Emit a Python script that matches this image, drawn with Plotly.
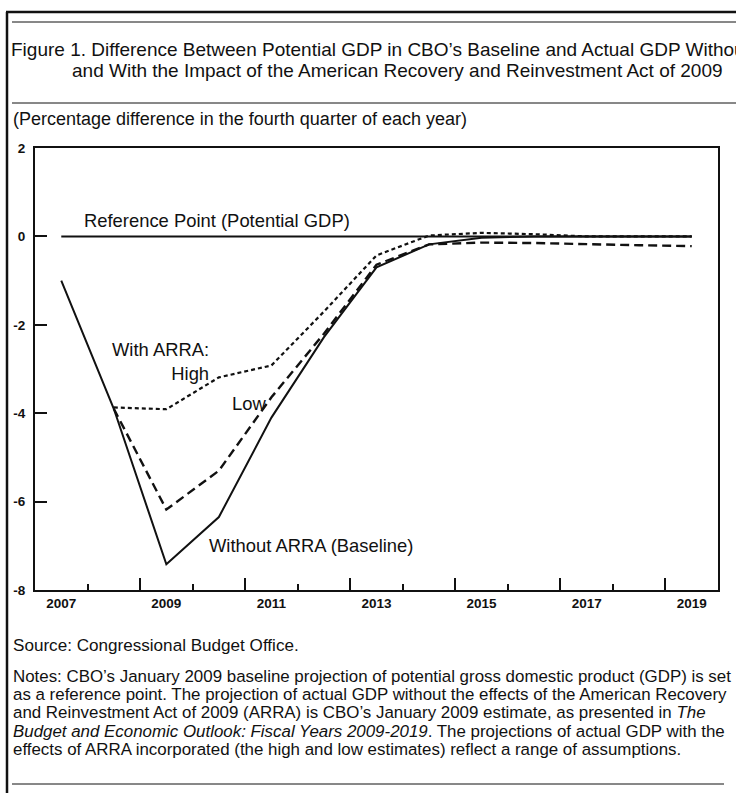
import plotly.graph_objects as go

# ---- data (percentage difference, Q4 of each year) ----
years = [2007, 2008, 2009, 2010, 2011, 2012, 2013, 2014, 2015, 2016, 2017, 2018, 2019]
reference = [0, 0, 0, 0, 0, 0, 0, 0, 0, 0, 0, 0, 0]
without_arra = [-1.0, -3.9, -7.42, -6.35, -4.1, -2.28, -0.7, -0.18, -0.03, 0.0, 0.0, 0.0, 0.0]
with_low = [None, -3.9, -6.18, -5.3, -3.64, -2.2, -0.64, -0.18, -0.14, -0.15, -0.18, -0.2, -0.22]
with_high = [None, -3.87, -3.91, -3.19, -2.92, -1.7, -0.43, 0.02, 0.08, 0.05, 0.0, 0.0, 0.0]

label_years = [2007, 2009, 2011, 2013, 2015, 2017, 2019]
long_ticks = [2008.5, 2010.5, 2012.5, 2014.5, 2016.5, 2018.5]
short_ticks = [2007.5, 2009.5, 2011.5, 2013.5, 2015.5, 2017.5]
y_ticks = [2, 0, -2, -4, -6, -8]

FONT = "Liberation Sans, Arial, sans-serif"
INK = "#111111"

W, H = 736, 793
L, R, T, B = 35, 718, 148, 590


def px(xp):
    return (xp - L) / (R - L)


def py(yp):
    return (B - yp) / (B - T)


fig = go.Figure()
fig.add_trace(go.Scatter(x=years, y=reference, mode="lines", xaxis="x2",
                         line=dict(color=INK, width=2), hoverinfo="skip"))
fig.add_trace(go.Scatter(x=years, y=with_high, mode="lines",
                         line=dict(color=INK, width=2.2, dash="4px,3px")))
fig.add_trace(go.Scatter(x=years, y=with_low, mode="lines",
                         line=dict(color=INK, width=2.4, dash="9px,5px")))
fig.add_trace(go.Scatter(x=years, y=without_arra, mode="lines",
                         line=dict(color=INK, width=2)))

ann = []
LBL = 18.4
ann.append(dict(x=2009.97, y=0.36, text="Reference Point (Potential GDP)", xref="x", yref="y",
                showarrow=False, font=dict(size=LBL, family=FONT, color=INK)))
ann.append(dict(x=2009.85, y=-2.84, text="With ARRA:<br>High", xref="x", yref="y", align="right",
                xanchor="right", showarrow=False, font=dict(size=LBL, family=FONT, color=INK)))
ann.append(dict(x=2010.58, y=-3.78, text="Low", xref="x", yref="y",
                showarrow=False, font=dict(size=LBL, family=FONT, color=INK)))
ann.append(dict(x=2011.76, y=-7.0, text="Without ARRA (Baseline)", xref="x", yref="y",
                showarrow=False, font=dict(size=LBL, family=FONT, color=INK)))


def txt(x, y, s, size):
    ann.append(dict(x=px(x), y=py(y), xref="paper", yref="paper", text=s, showarrow=False,
                    xanchor="left", yanchor="middle", align="left",
                    font=dict(size=size, family=FONT, color=INK)))

txt(9, 50, "Figure 1. Difference Between Potential GDP in CBO\u2019s Baseline and Actual GDP Without", 19)
txt(70, 71, "and With the Impact of the American Recovery and Reinvestment Act of 2009", 19)
txt(11, 119, "(Percentage difference in the fourth quarter of each year)", 18)
txt(11, 645, "Source: Congressional Budget Office.", 17.1)
notes = [
    "Notes: CBO\u2019s January 2009 baseline projection of potential gross domestic product (GDP) is set",
    "as a reference point. The projection of actual GDP without the effects of the American Recovery",
    "and Reinvestment Act of 2009 (ARRA) is CBO\u2019s January 2009 estimate, as presented in <i>The</i>",
    "<i>Budget and Economic Outlook: Fiscal Years 2009-2019</i>. The projections of actual GDP with the",
    "effects of ARRA incorporated (the high and low estimates) reflect a range of assumptions.",
]
for i, line in enumerate(notes):
    txt(11, 676 + i * 18.4, line, 16.9)

shapes = []
def hline(y, x0, x1, w):
    shapes.append(dict(type="line", xref="paper", yref="paper", x0=px(x0), x1=px(x1),
                       y0=py(y), y1=py(y), line=dict(color=INK, width=w)))

shapes.append(dict(type="line", xref="paper", yref="paper", x0=px(7), x1=px(7),
                   y0=py(12), y1=py(800), line=dict(color=INK, width=2.5)))
hline(12, 6, 740, 2.5)
hline(22, 12, 740, 1)
hline(103, 12, 740, 1)
hline(784, 12, 724, 1)

fig.update_layout(
    width=W, height=H,
    margin=dict(l=L, r=W - R, t=T, b=H - B, autoexpand=False),
    paper_bgcolor="white", plot_bgcolor="white",
    showlegend=False,
    annotations=ann, shapes=shapes,
    xaxis=dict(range=[2006.5, 2019.5], tickmode="array", tickvals=label_years,
               ticktext=[str(v) for v in label_years], ticks="",
               tickfont=dict(size=13.5, family=FONT, color=INK, weight="bold"),
               showline=True, linecolor=INK, linewidth=2, mirror=True,
               showgrid=False, zeroline=False,
               minor=dict(tickmode="array", tickvals=long_ticks, ticks="inside",
                          ticklen=12, tickwidth=2, tickcolor=INK, showgrid=False)),
    xaxis2=dict(range=[2006.5, 2019.5], overlaying="x", anchor="y", side="bottom",
                tickmode="array", tickvals=short_ticks, ticks="inside", ticklen=6,
                tickwidth=2, tickcolor=INK, showticklabels=False, showline=False,
                showgrid=False, zeroline=False),
    yaxis=dict(range=[-8, 2], tickmode="array", tickvals=y_ticks,
               ticktext=[str(v) for v in y_ticks], ticks="inside", ticklen=12,
               tickwidth=2, tickcolor=INK, ticklabelstandoff=5,
               tickfont=dict(size=13.5, family=FONT, color=INK, weight="bold"),
               showline=True, linecolor=INK, linewidth=2, mirror=True,
               showgrid=False, zeroline=False),
)

fig.write_html("out.html", config={"displayModeBar": False},
               post_script="document.body.style.margin='0px';")
